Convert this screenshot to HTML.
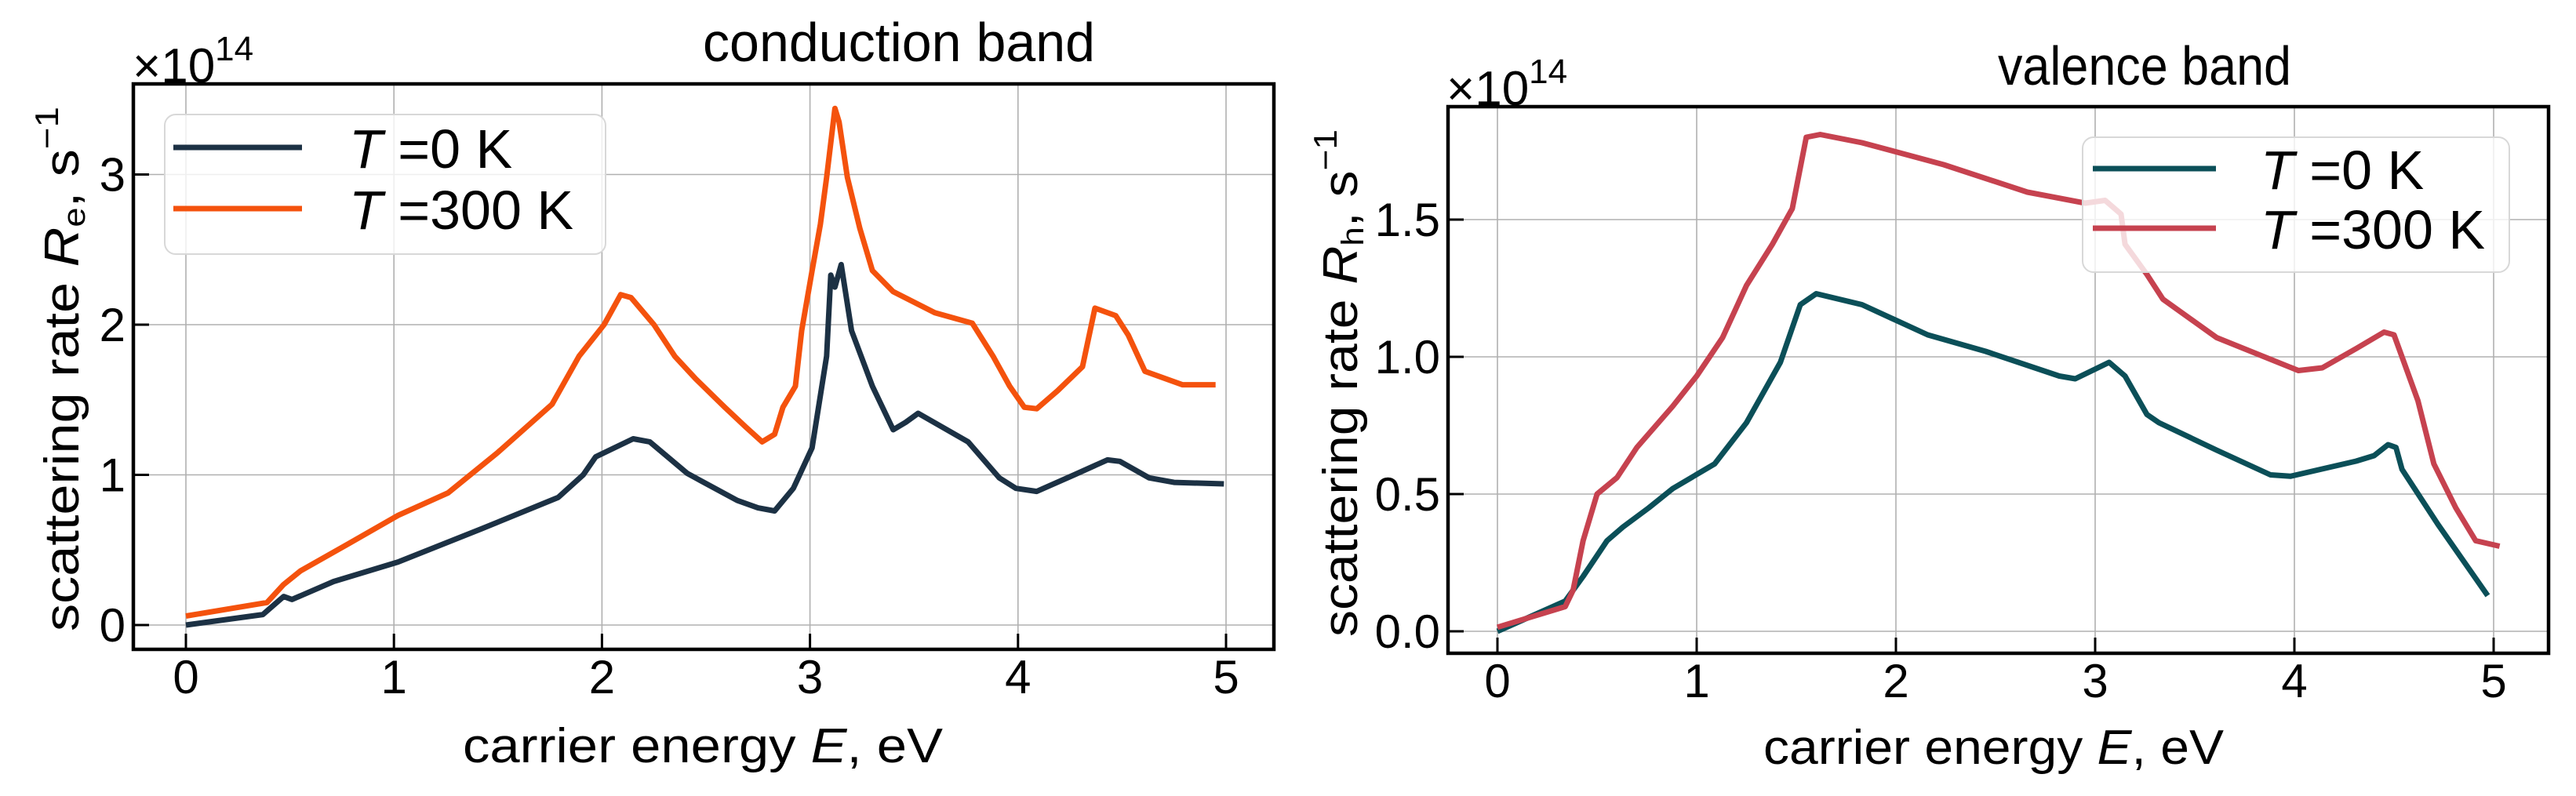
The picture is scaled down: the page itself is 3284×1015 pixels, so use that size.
<!DOCTYPE html>
<html><head><meta charset="utf-8">
<style>
html,body{margin:0;padding:0;background:#fff;}
svg{display:block;font-family:"Liberation Sans",sans-serif;}
</style></head>
<body>
<svg id="fig" width="3284" height="1015" viewBox="0 0 3284 1015" xmlns="http://www.w3.org/2000/svg">
<rect width="3284" height="1015" fill="#fff"/>
<g id="left"></g>
<g id="right"></g>
</svg>
<script>
// ---- Conduction band data ----
const condE0 = [0,0.37,0.47,0.51,0.71,1.02,1.42,1.79,1.91,1.97,2.15,2.23,2.41,2.65,2.75,2.83,2.92,3.01,3.08,3.10,3.12,3.15,3.20,3.30,3.40,3.46,3.52,3.76,3.91,3.99,4.09,4.27,4.43,4.49,4.63,4.75,4.99];
const condR0 = [0,0.07,0.19,0.17,0.29,0.42,0.64,0.85,1.0,1.12,1.24,1.22,1.01,0.83,0.78,0.76,0.91,1.18,1.79,2.33,2.25,2.4,1.96,1.59,1.30,1.35,1.41,1.22,0.98,0.91,0.89,1.0,1.1,1.09,0.98,0.95,0.94];
const condE300 = [0,0.39,0.47,0.55,0.78,1.02,1.26,1.5,1.76,1.89,2.01,2.09,2.14,2.25,2.35,2.45,2.59,2.69,2.77,2.83,2.87,2.93,2.96,3.01,3.05,3.08,3.12,3.14,3.18,3.24,3.30,3.40,3.60,3.78,3.88,3.96,4.03,4.09,4.19,4.31,4.37,4.47,4.53,4.61,4.79,4.95];
const condR300 = [0.06,0.15,0.27,0.36,0.54,0.73,0.88,1.15,1.47,1.79,2.0,2.2,2.18,2.0,1.79,1.64,1.45,1.32,1.22,1.27,1.45,1.59,1.96,2.36,2.67,2.98,3.44,3.35,2.98,2.64,2.36,2.22,2.08,2.01,1.79,1.59,1.45,1.44,1.56,1.72,2.11,2.06,1.93,1.69,1.6,1.6];
// ---- Valence band data ----
const valE0 = [0,0.34,0.43,0.55,0.63,0.76,0.88,1.09,1.25,1.42,1.52,1.60,1.83,2.16,2.45,2.82,2.90,3.07,3.15,3.26,3.32,3.61,3.88,3.98,4.31,4.40,4.47,4.51,4.54,4.72,4.97];
const valR0 = [0,0.11,0.20,0.33,0.38,0.45,0.52,0.61,0.76,0.98,1.19,1.23,1.19,1.08,1.02,0.93,0.92,0.98,0.93,0.79,0.76,0.66,0.57,0.565,0.62,0.64,0.68,0.67,0.59,0.39,0.13];
const valE300 = [0,0.34,0.38,0.43,0.50,0.60,0.70,0.88,1.0,1.13,1.25,1.38,1.48,1.55,1.62,1.83,2.24,2.66,2.95,3.05,3.13,3.15,3.26,3.34,3.61,4.02,4.14,4.31,4.45,4.50,4.62,4.70,4.81,4.91,5.03];
const valR300 = [0.015,0.09,0.15,0.33,0.5,0.56,0.67,0.82,0.93,1.07,1.26,1.41,1.54,1.8,1.81,1.78,1.70,1.60,1.56,1.57,1.52,1.41,1.30,1.21,1.07,0.95,0.96,1.03,1.09,1.08,0.84,0.61,0.45,0.33,0.31];
const xTicks = [0,1,2,3,4,5];
const condYTicks = [0,1,2,3];
const condYTickLabels = ["0","1","2","3"];
const valYTicks = [0,0.5,1.0,1.5];
const valYTickLabels = ["0.0","0.5","1.0","1.5"];

const NS = "http://www.w3.org/2000/svg";
function mk(parent, tag, attrs, text){
  const e = document.createElementNS(NS, tag);
  for (const k in attrs) e.setAttribute(k, attrs[k]);
  if (text !== undefined) e.textContent = text;
  parent.appendChild(e);
  return e;
}

function panel(g, cfg){
  const sx = v => cfg.x0 + v*cfg.xu;
  const sy = v => cfg.y0 - v*cfg.yu;
  // grid
  xTicks.forEach(t=>{
    const l = mk(g,'line',{x1:sx(t),x2:sx(t),y1:cfg.top,y2:cfg.bottom,stroke:'#b0b0b0','stroke-width':1.6});
    
    
  });
  cfg.yTicks.forEach(t=>{
    const l = mk(g,'line',{x1:cfg.left,x2:cfg.right,y1:sy(t),y2:sy(t),stroke:'#b0b0b0','stroke-width':1.6});
    
    
  });
  // series
  cfg.series.forEach(s=>{
    let d='';
    s.x.forEach((v,i)=>{ d += (i?'L':'M')+sx(v).toFixed(1)+','+sy(s.y[i]).toFixed(1); });
    const p = mk(g,'path',{d:d,fill:'none',stroke:s.color,'stroke-width':7,'stroke-linejoin':'round','stroke-linecap':'butt'});
    
    
  });
  // ticks
  xTicks.forEach(t=>{
    const l = mk(g,'line',{x1:sx(t),x2:sx(t),y1:cfg.bottom,y2:cfg.bottom-20,stroke:'#000','stroke-width':3});
    
    
    const tx = mk(g,'text',{x:sx(t),y:cfg.bottom+56,'font-size':60,'text-anchor':'middle'},String(t));
    
    
  });
  cfg.yTicks.forEach((t,i)=>{
    const l = mk(g,'line',{x1:cfg.left,x2:cfg.left+20,y1:sy(t),y2:sy(t),stroke:'#000','stroke-width':3});
    
    
    const tx = mk(g,'text',{x:cfg.left-10,y:sy(t)+21,'font-size':60,'text-anchor':'end'},cfg.yLabels[i]);
    
    
  });
  // frame
  const fr = mk(g,'rect',{x:cfg.left,y:cfg.top,width:cfg.right-cfg.left,height:cfg.bottom-cfg.top,fill:'none',stroke:'#000','stroke-width':4.5});
  
  
  // legend
  const L = cfg.legend;
  const lg = mk(g,'g',{});
  
  
  mk(lg,'rect',{x:L.x,y:L.y,width:L.w,height:L.h,rx:14,fill:'#fff','fill-opacity':0.8,stroke:'#d8d8d8','stroke-width':2});
  cfg.series.forEach((s,i)=>{
    const yy = L.rows[i];
    const ln = mk(lg,'line',{x1:L.lx1,x2:L.lx2,y1:yy,y2:yy,stroke:s.color,'stroke-width':7});
    
    
    const t = mk(lg,'text',{x:L.tx,y:yy+26,'font-size':70});
    
    
    mk(t,'tspan',{'font-style':'italic'},'T');
    mk(t,'tspan',{},' =' + s.label);
  });
}

panel(document.getElementById('left'),{
  x0:237, xu:265.2, y0:797, yu:191.5, left:170, right:1624, top:107, bottom:828,
  yTicks:condYTicks, yLabels:condYTickLabels,
  series:[
    {x:condE0,y:condR0,color:'#1c3144',name:'line-T0K',label:'0 K'},
    {x:condE300,y:condR300,color:'#f4520d',name:'line-T300K',label:'300 K'}
  ],
  legend:{x:210,y:146,w:562,h:178,lx1:221,lx2:385,rows:[188,266],tx:445}
});
panel(document.getElementById('right'),{
  x0:1909, xu:254, y0:805, yu:350, left:1846, right:3249, top:136, bottom:833,
  yTicks:valYTicks, yLabels:valYTickLabels,
  series:[
    {x:valE0,y:valR0,color:'#0b4f58',name:'line-T0K',label:'0 K'},
    {x:valE300,y:valR300,color:'#c6424f',name:'line-T300K',label:'300 K'}
  ],
  legend:{x:2655,y:175,w:544,h:172,lx1:2668,lx2:2825,rows:[215,291],tx:2882}
});
</script>
<svg style="position:absolute;left:0;top:0" width="3284" height="1015" viewBox="0 0 3284 1015">
<text x="896" y="78" font-size="70" textLength="500" lengthAdjust="spacingAndGlyphs" font-family="Liberation Sans, sans-serif">conduction band</text>
<text x="2547" y="108" font-size="70" textLength="374" lengthAdjust="spacingAndGlyphs" font-family="Liberation Sans, sans-serif">valence band</text>
<text x="169" y="105" font-size="62" font-family="Liberation Sans, sans-serif">×10<tspan font-size="44" dy="-28">14</tspan></text>
<text x="1844" y="134" font-size="62" font-family="Liberation Sans, sans-serif">×10<tspan font-size="44" dy="-28">14</tspan></text>
<text x="590" y="972" font-size="62" textLength="612" lengthAdjust="spacingAndGlyphs" font-family="Liberation Sans, sans-serif">carrier energy <tspan font-style="italic">E</tspan>, eV</text>
<text x="2248" y="974" font-size="62" textLength="587" lengthAdjust="spacingAndGlyphs" font-family="Liberation Sans, sans-serif">carrier energy <tspan font-style="italic">E</tspan>, eV</text>
<text transform="translate(100,805) rotate(-90)" x="0" y="0" font-size="62" textLength="669" lengthAdjust="spacingAndGlyphs" font-family="Liberation Sans, sans-serif">scattering rate <tspan font-style="italic">R</tspan><tspan font-size="40" dy="8">e</tspan><tspan dy="-8">, s</tspan><tspan font-size="42" dy="-26">−1</tspan></text>
<text transform="translate(1730,812) rotate(-90)" x="0" y="0" font-size="62" textLength="647" lengthAdjust="spacingAndGlyphs" font-family="Liberation Sans, sans-serif">scattering rate <tspan font-style="italic">R</tspan><tspan font-size="40" dy="8">h</tspan><tspan dy="-8">, s</tspan><tspan font-size="42" dy="-26">−1</tspan></text>
</svg>
</body></html>
